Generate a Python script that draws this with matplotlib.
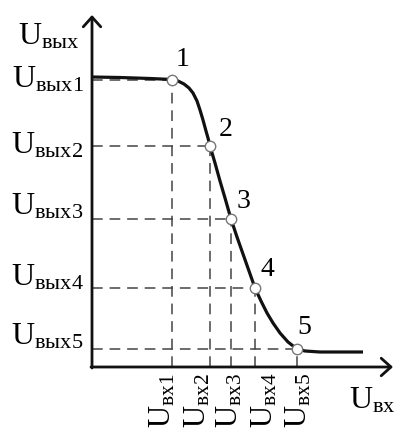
import matplotlib.pyplot as plt

plt.rcParams['mathtext.fontset'] = 'custom'
plt.rcParams['mathtext.rm'] = 'Liberation Serif'
plt.rcParams['mathtext.it'] = 'Liberation Serif'
plt.rcParams['font.family'] = ['Liberation Serif', 'DejaVu Serif']

# передаточная характеристика (условные единицы)
curve_x = [0, 2.8, 5.8, 8.0, 8.6, 9.2, 9.7, 10.1, 10.5, 10.8, 11.1, 11.4, 11.6, 11.8,
           12.3, 12.8, 13.3, 13.9, 14.5, 15.1, 15.7, 16.3, 16.9, 17.5, 18.1, 18.8,
           19.6, 20.5, 21.3, 22.8, 27.1]
curve_y = [29.0, 28.95, 28.85, 28.75, 28.6, 28.3, 27.9, 27.4, 26.6, 25.7, 24.7, 23.6,
           22.9, 22.1, 20.4, 18.6, 16.9, 14.8, 13.0, 11.3, 9.6, 7.9, 6.6, 5.4, 4.4,
           3.4, 2.5, 1.8, 1.6, 1.5, 1.5]

# отмеченные точки 1..5
u_in = [8.0, 11.8, 13.9, 16.3, 20.5]
u_out = [28.75, 22.1, 14.8, 7.9, 1.8]
point_labels = ['1', '2', '3', '4', '5']

out_labels = [r'$\mathrm{U}_{\mathrm{вых1}}$', r'$\mathrm{U}_{\mathrm{вых2}}$',
              r'$\mathrm{U}_{\mathrm{вых3}}$', r'$\mathrm{U}_{\mathrm{вых4}}$',
              r'$\mathrm{U}_{\mathrm{вых5}}$']
in_labels = [r'$\mathrm{U}_{\mathrm{вх1}}$', r'$\mathrm{U}_{\mathrm{вх2}}$',
             r'$\mathrm{U}_{\mathrm{вх3}}$', r'$\mathrm{U}_{\mathrm{вх4}}$',
             r'$\mathrm{U}_{\mathrm{вх5}}$']

fig = plt.figure(figsize=(4.01, 4.30), dpi=100)
ax = fig.add_axes([0, 0, 1, 1])
ax.set_xlim(-9.2, 30.9)
ax.set_ylim(-6.3, 36.7)
ax.axis('off')

px = 0.72  # пиксели -> пункты

# оси со стрелками
arrow = dict(arrowstyle='->,head_length=0.5,head_width=0.45', lw=2.0,
             color='#111111', mutation_scale=14, shrinkA=0, shrinkB=0)
ax.annotate('', xy=(0, 35.2), xytext=(0, -0.1), arrowprops=arrow)
ax.annotate('', xy=(30.1, 0), xytext=(-0.1, 0), arrowprops=arrow)

# пунктирные проекции
dash_col = '#444444'
for xi, yi in zip(u_in, u_out):
    ax.plot([0, xi], [yi, yi], color=dash_col, lw=1.1, ls=(0, (7, 4.5)), zorder=1)
    ax.plot([xi, xi], [0, yi], color=dash_col, lw=1.1, ls=(0, (7, 4.5)), zorder=1)

ax.plot(curve_x, curve_y, color='#111111', lw=2.3, solid_capstyle='butt', zorder=2)
ax.plot(u_in, u_out, 'o', ms=7.5, mfc='white', mec='#777777', mew=1.0, zorder=3)

label_off = [(11, 20), (16, 16), (12, 18), (12, 19), (7, 21)]
for xi, yi, lab, (dx, dy) in zip(u_in, u_out, point_labels, label_off):
    ax.annotate(lab, (xi, yi), xytext=(dx * px, dy * px), textcoords='offset points',
                fontsize=20, ha='center', va='center')

# подписи оси Y
out_offsets = [0, 0, 12, 10, 12]  # смещение вверх, px
for yi, lab, dy in zip(u_out, out_labels, out_offsets):
    ax.annotate(lab, (0, yi), xytext=(-6, dy * px), textcoords='offset points',
                fontsize=23, ha='right', va='center')
ax.annotate(r'$\mathrm{U}_{\mathrm{вых}}$', (0, 35.2), xytext=(-8.5, -16),
            textcoords='offset points', fontsize=23, ha='right', va='center')

# подписи оси X (повёрнутые)
in_label_x = [7.1, 10.55, 13.8, 17.3, 20.7]
for xl, lab in zip(in_label_x, in_labels):
    ax.text(xl, -3.35, lab, fontsize=22, rotation=90, ha='center', va='center')
ax.text(28.0, -3.4, r'$\mathrm{U}_{\mathrm{вх}}$', fontsize=23, ha='center', va='center')

fig.savefig('out.png', dpi=100)
